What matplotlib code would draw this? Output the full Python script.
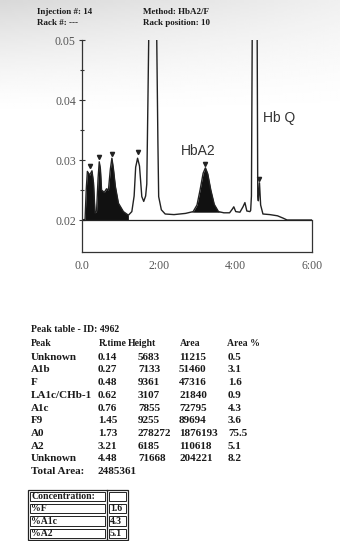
"""
HPLC chromatogram report (HbA2/F method) with peak table

"""
import matplotlib

matplotlib.use("Agg")
import matplotlib.pyplot as plt
import numpy as np
from matplotlib.patches import Rectangle

# header of the report
header_left = ["Injection #: 14", "Rack #: ---"]
header_right = ["Method: HbA2/F", "Rack position: 10"]

# chromatogram trace (time in min, absorbance)
trace_t = [0.00, 0.08, 0.11, 0.14, 0.20, 0.26, 0.30, 0.34, 0.38, 0.42,
           0.45, 0.48, 0.51, 0.58, 0.64, 0.69, 0.74, 0.78, 0.82, 0.87,
           0.95, 1.08, 1.21, 1.30, 1.36, 1.40, 1.45, 1.50, 1.56, 1.61,
           1.66, 1.69, 1.72, 1.74, 1.78, 1.84, 1.90, 1.95, 1.98, 2.00,
           2.07, 2.17, 2.40, 2.70, 2.90, 3.00, 3.08, 3.16, 3.22, 3.28,
           3.36, 3.45, 3.56, 3.70, 3.85, 3.92, 3.96, 4.01, 4.12, 4.20,
           4.25, 4.30, 4.38, 4.40, 4.42, 4.44, 4.50, 4.57, 4.585, 4.60,
           4.63, 4.66, 4.72, 4.90, 5.10, 5.25, 5.35, 6.00]
trace_y = [0.0200, 0.0201, 0.0250, 0.0281, 0.0275, 0.0282, 0.0262, 0.0212, 0.0215, 0.0270,
           0.0297, 0.0285, 0.0250, 0.0246, 0.0252, 0.0250, 0.0285, 0.0303, 0.0285, 0.0256,
           0.0228, 0.0214, 0.0208, 0.0214, 0.0240, 0.0288, 0.0303, 0.0290, 0.0239, 0.0231,
           0.0240, 0.0260, 0.0400, 0.0500, 0.0600, 0.0650, 0.0600, 0.0500, 0.0330, 0.0239,
           0.0217, 0.0210, 0.0209, 0.0211, 0.0214, 0.0225, 0.0250, 0.0278, 0.0287, 0.0277,
           0.0250, 0.0226, 0.0214, 0.0212, 0.0212, 0.0218, 0.0222, 0.0214, 0.0213, 0.0222,
           0.0229, 0.0215, 0.0214, 0.0216, 0.0240, 0.0500, 0.0700, 0.0500, 0.0240, 0.0232,
           0.0262, 0.0225, 0.0210, 0.0209, 0.0207, 0.0203, 0.0200, 0.0200]

# little peak marks above the integrated peaks
mark_t = [0.20, 0.45, 0.78, 1.45, 3.22, 4.63]
mark_y = [0.0290, 0.0305, 0.0310, 0.0314, 0.0293, 0.0268]

peak_labels = ["HbA2", "Hb Q"]
peak_label_pos = [(3.02, 0.0315), (5.15, 0.0370)]

y_ticks = [0.02, 0.03, 0.04, 0.05]
x_ticks = [0, 2, 4, 6]
x_tick_labels = ["0.0", "2:00", "4:00", "6:00"]

# peak table
table_title = "Peak table - ID: 4962"
table_cols = ["Peak", "R.time", "Height", "Area", "Area %"]
peak_names = ["Unknown", "A1b", "F", "LA1c/CHb-1", "A1c", "F9", "A0", "A2", "Unknown"]
rtimes = ["0.14", "0.27", "0.48", "0.62", "0.76", "1.45", "1.73", "3.21", "4.48"]
heights = ["5683", "7133", "9361", "3107", "7855", "9255", "278272", "6185", "71668"]
areas = ["11215", "51460", "47316", "21840", "72795", "89694", "1876193", "110618", "204221"]
area_pct = ["0.5", "3.1", "1.6", "0.9", "4.3", "3.6", "75.5", "5.1", "8.2"]
total_area = "2485361"

conc_names = ["%F", "%A1c", "%A2"]
conc_values = ["1.6", "4.3", "5.1"]

W, H = 340, 541
SERIF = ["Liberation Serif", "DejaVu Serif"]


def draw_chromatogram(fig):
    """ the trace with its shaded peaks """
    ax = fig.add_axes([82 / W, 1 - 252 / H, 230 / W, 212 / H])
    ax.patch.set_alpha(0)
    ax.set_xlim(0, 6)
    ax.set_ylim(0.014667, 0.05)

    t = trace_t
    y = trace_y
    ax.fill_between(t, y, 0.02, where=[0.09 <= v <= 1.22 for v in t],
                    color="#111111", lw=0, interpolate=True)
    ax.fill_between(t, y, 0.0213, where=[2.90 <= v <= 3.56 for v in t],
                    color="#111111", lw=0, interpolate=True)
    ax.plot(t, y, color="#222222", lw=1.0)
    ax.axhline(0.02, color="#222222", lw=0.9)
    ax.plot(mark_t, mark_y, "v", color="#222222", ms=3)

    for label, pos in zip(peak_labels, peak_label_pos):
        ax.text(pos[0], pos[1], label, fontsize=10, color="#333333",
                family="Liberation Sans", ha="center", va="center")

    # box edges: only left, bottom and the lower part of the right side
    ax.spines["top"].set_visible(False)
    ax.spines["right"].set_visible(False)
    for s in ("left", "bottom"):
        ax.spines[s].set_color("#333333")
        ax.spines[s].set_linewidth(0.9)
    ax.plot([6, 6], [0.014667, 0.02], color="#333333", lw=0.9, clip_on=False)

    ax.set_yticks(y_ticks)
    ax.set_yticklabels(["%.2f" % v for v in y_ticks])
    ax.set_yticks([0.025, 0.035, 0.045], minor=True)
    ax.tick_params(axis="y", which="major", direction="inout", length=5,
                   width=0.8, color="#333333", pad=2, labelsize=8.5,
                   labelcolor="#555555")
    ax.tick_params(axis="y", which="minor", direction="inout", length=3,
                   width=0.8, color="#333333")
    ax.set_xticks(x_ticks)
    ax.set_xticklabels(x_tick_labels)
    ax.tick_params(axis="x", length=0, pad=6, labelsize=8.5, labelcolor="#555555")
    for lab in ax.get_xticklabels() + ax.get_yticklabels():
        lab.set_family(SERIF)
    return ax


def draw_report(fig):
    """ header, peak table and concentration box, in pixel coordinates """
    ax = fig.add_axes([0, 0, 1, 1], zorder=-1)

    # grey shading of the scan at the top of the page, darkest top left
    gy, gx = np.mgrid[0:1:60j, 0:1:80j]
    shade = 1 - 0.15 * (1 - gy) ** 1.5 * (1 - 0.6 * gx)
    ax.imshow(shade, cmap="gray", vmin=0, vmax=1, aspect="auto",
              extent=(0, W, 120, 0), interpolation="bilinear")
    ax.set_xlim(0, W)
    ax.set_ylim(H, 0)
    ax.axis("off")

    kw = dict(family=SERIF, color="#1a1a1a", va="center", ha="left",
              weight="bold")

    for i, (a, b) in enumerate(zip(header_left, header_right)):
        ax.text(37, 12 + 11 * i, a, fontsize=6.5, **kw)
        ax.text(143, 12 + 11 * i, b, fontsize=6.5, **kw)

    ax.text(31, 330, table_title, fontsize=7, **kw)
    col_x = [31, 98, 138, 179, 228]
    head_x = [31, 99, 128, 180, 227]
    for x, c in zip(head_x, table_cols):
        ax.text(x, 343.3, c, fontsize=7, **kw)
    for i, row in enumerate(zip(peak_names, rtimes, heights, areas, area_pct)):
        yy = 357.3 + 12.7 * i
        for x, cell in zip(col_x, row):
            ax.text(x, yy, cell, fontsize=8, **kw)
    ax.text(31, 357.3 + 12.7 * 9, "Total Area:", fontsize=8, **kw)
    ax.text(98, 357.3 + 12.7 * 9, total_area, fontsize=8, **kw)

    # concentration box
    x0, x1, xd = 28, 128, 107
    rows = ["Concentration:"] + conc_names
    vals = [""] + conc_values
    top = 490
    rh = 12.4
    ax.add_patch(Rectangle((x0, top), x1 - x0, rh * 4, fill=False,
                           ec="#222222", lw=0.9))
    ax.plot([xd, xd], [top, top + rh * 4], color="#222222", lw=0.9)
    for i, (name, val) in enumerate(zip(rows, vals)):
        yy = top + rh * i
        ax.add_patch(Rectangle((x0 + 2, yy + 1.5), xd - x0 - 4, rh - 3,
                               fill=False, ec="#222222", lw=0.7))
        ax.add_patch(Rectangle((xd + 2, yy + 1.5), x1 - xd - 4, rh - 3,
                               fill=False, ec="#222222", lw=0.7))
        ax.text(x0 + 3, yy + rh / 2, name, fontsize=7, **kw)
        ax.text(xd + 3, yy + rh / 2, val, fontsize=7, **kw)


def main():
    fig = plt.figure(figsize=(W / 100, H / 100), dpi=100)
    draw_report(fig)
    draw_chromatogram(fig)
    fig.savefig("out.png", dpi=100)


if __name__ == "__main__":
    main()
